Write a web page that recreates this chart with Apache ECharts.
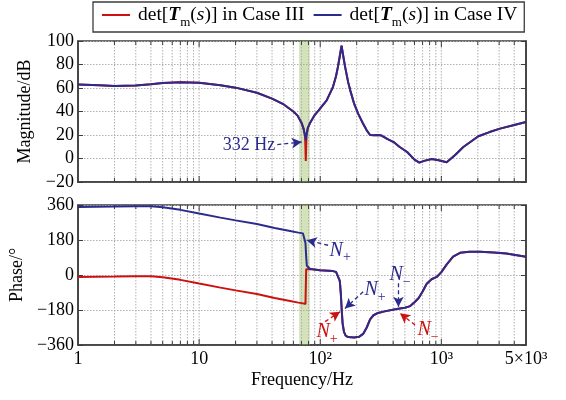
<!DOCTYPE html>
<html><head><meta charset="utf-8">
<script src="https://cdn.jsdelivr.net/npm/echarts@6/dist/echarts.min.js"></script>
<style>html,body{margin:0;padding:0;background:#fff}#c{width:566px;height:400px}</style>
</head><body><div id="c"></div>
<script>
// ---------- data ----------
const freqMag = [1,1.5,2,3,4,5,7,10,15,20,30,40,50,60,65,70,73,75,76,77,79,82.6,90,97,113,127,135,140,145,150,155,160.5,170,177,190,206,225,242,258,280,300,321,360,404,450,522,600,658,720,833,950,1107,1300,1518,2023,2500,3050,4000,5000];
const magCaseIV = [63,62.3,61.8,62.2,63.2,64.2,64.9,64.4,62.3,60.3,56,51,46,40,36.5,30.5,25,19,15.5,20,26,30.5,37,41,49.5,60.5,70,78,87,96,87,78,65,58,47,38,30,24,20,19.8,20,19.5,16.5,14,10,5.5,-1,-3.5,-2,-0.4,-1.5,-3.2,3,9.8,18.9,22.5,25.4,28.5,31];
const magCaseIII = [63,62.3,61.8,62.2,63.2,64.2,64.9,64.4,62.3,60.3,56,51,46,40,36.5,30.5,25,19,-2,20,26,30.5,37,41,49.5,60.5,70,78,87,96,87,78,65,58,47,38,30,24,20,19.8,20,19.5,16.5,14,10,5.5,-1,-3.5,-2,-0.4,-1.5,-3.2,3,9.8,18.9,22.5,25.4,28.5,31];

const freqPhase = [1,2,3,4,5,7,10,15,20,30,42,55,66,72,74,75.5,76.5,77.5,79,82.6,99.5,127,135,140,145,148,150.4,153,157,162,170,190,210,226,242,258,275,300,340,427,500,553,600,650,700,757,830,916,1000,1108,1250,1427,1700,2090,2700,3446,4200,5000];
const phaseCaseIV = [350,352,354,354,349,335,316,295,281,262,242,228,218,214,210,165,95,48,38,31,25,20,16,8,-30,-100,-180,-250,-292,-312,-319,-321,-317,-303,-270,-228,-207,-195,-187,-175,-168,-160,-140,-118,-85,-45,-22,-10,15,55,95,114,120,119,116,110,102,94];
const phaseCaseIII = [-10,-8,-6,-6,-11,-25,-44,-65,-79,-98,-118,-132,-142,-146,-148,-149,30,32,33,31,25,20,16,8,-30,-100,-180,-250,-292,-312,-319,-321,-317,-303,-270,-228,-207,-195,-187,-175,-168,-160,-140,-118,-85,-45,-22,-10,15,55,95,114,120,119,116,110,102,94];

const xMin = 1, xMax = 5000;
const xMajorTicks = [1,10,100,1000,5000];
const xMinorTicks = [2,3,4,5,6,7,8,9,20,30,40,50,60,70,80,90,200,300,400,500,600,700,800,900,2000,3000,4000];
const xTickLabels = {1:'1',10:'10',100:'10²',1000:'10³',5000:'5×10³'};
const magRange = [-20,100,20];
const phaseRange = [-360,360,180];
const band = [67,82];

// annotations (data coordinates)
const annotMag = {text:'332 Hz', at:[25.8,11.2], from:[44.2,11.8], to:[70.3,14.0]};
const annotPhaseBlue = [
  {sub:'+', at:[146,127], from:[116,153], to:[77.4,179]},
  {sub:'+', at:[284,-78], from:[226,-86], to:[160,-172]},
  {sub:'−', at:[456,-1], from:[442,-43], to:[442,-163]}
];
const annotPhaseRed = [
  {sub:'+', at:[114,-293], from:[109.5,-240], to:[145.7,-189]},
  {sub:'−', at:[776,-283], from:[607,-257], to:[456,-197]}
];

// ---------- style ----------
const serif = 'Liberation Serif';
const blue = '#2b2a8e', red = '#cc1111', axisColor = '#3c3c3c', gridColor = '#b0b0b0';
const zip = (a,b) => a.map((v,i)=>[v,b[i]]);
const fmtY = v => v < 0 ? '\u2212' + (-v) : String(v);

function gridRenderItem(params, api){
  const cs = params.coordSys;
  const v = api.value(0);
  const x = api.coord([v, api.value(1)])[0];
  const top = cs.y, bot = cs.y + cs.height;
  const major = xMajorTicks.indexOf(v) >= 0;
  const len = major ? 6 : 4;
  const ch = [];
  if (v > xMin && v < xMax) ch.push({type:'line', shape:{x1:x,y1:top,x2:x,y2:bot}, style:{stroke:gridColor,lineWidth:1,lineDash:[1.5,1.5]}});
  ch.push({type:'line', shape:{x1:x,y1:bot,x2:x,y2:bot-len}, style:{stroke:axisColor,lineWidth:1}});
  ch.push({type:'line', shape:{x1:x,y1:top,x2:x,y2:top+len}, style:{stroke:axisColor,lineWidth:1}});
  return {type:'group', children:ch};
}
const gridVals = xMinorTicks.concat([10,100,1000]).map(v=>[v,0]);

function xAxisDef(gi, labels){
  return {type:'log', logBase:10, gridIndex:gi, min:xMin, max:xMax, interval:1,
    axisLine:{show:true, onZero:false, lineStyle:{color:axisColor,width:1.5}},
    axisTick:{show:false}, splitLine:{show:false}, minorTick:{show:false},
    axisLabel:{show:labels, margin:5, color:'#000', fontFamily:serif, fontSize:18,
      formatter: v => xTickLabels[Math.round(v)] || ''},
    name: labels ? 'Frequency/Hz' : '', nameLocation:'middle', nameGap:26,
    nameTextStyle:{color:'#000', fontFamily:serif, fontSize:18}};
}
function yAxisDef(gi, r, name, right){
  return {type:'value', gridIndex:gi, min:r[0], max:r[1], interval:r[2], position: right?'right':'left',
    axisLine:{show:true, onZero:false, lineStyle:{color:axisColor,width:1.5}},
    axisTick:{show:true, inside:true, length:5, lineStyle:{color:axisColor}},
    splitLine:{show:!right, lineStyle:{color:gridColor, type:[1.5,1.5]}},
    axisLabel:{show:!right, margin:4, color:'#000', fontFamily:serif, fontSize:18, formatter:fmtY},
    name: right ? '' : name, nameLocation:'middle', nameGap:44,
    nameTextStyle:{color:'#000', fontFamily:serif, fontSize:18}};
}
function arrowLines(list, color){
  return {silent:true, symbol:['none','arrow'], symbolSize:[8,10], animation:false,
    lineStyle:{color:color, type:[4,3], width:1.3}, label:{show:false},
    data: list.map(a => [{coord:a.from},{coord:a.to}])};
}
function nLabels(list, color){
  return {silent:true, symbol:'circle', symbolSize:0, animation:false,
    data: list.map(a => ({coord:a.at, value:a.sub})),
    label:{show:true, position:'inside', color:color,
      formatter: p => '{n|N}{s|' + p.value + '}',
      rich:{ n:{fontFamily:serif, fontStyle:'italic', fontSize:20, color:color, lineHeight:28},
             s:{fontFamily:serif, fontSize:14, color:color, verticalAlign:'bottom', lineHeight:28} }}};
}
const bandArea = {silent:true, itemStyle:{color:'rgba(150,185,90,0.42)'}, data:[[{xAxis:band[0]},{xAxis:band[1]}]]};

const legendRich = {
  n:{fontFamily:serif, fontSize:19.5, color:'#000', lineHeight:28},
  b:{fontFamily:serif, fontSize:19.5, color:'#000', fontWeight:'bold', fontStyle:'italic', lineHeight:28},
  i:{fontFamily:serif, fontSize:19.5, color:'#000', fontStyle:'italic', lineHeight:28},
  sub:{fontFamily:serif, fontSize:13, color:'#000', verticalAlign:'bottom', lineHeight:28}
};

const option = {
  animation:false,
  backgroundColor:'#fff',
  textStyle:{fontFamily:serif},
  legend:{data:['III','IV'], left:93, top:2, selectedMode:false,
    padding:[3,7,3,9], borderColor:axisColor, borderWidth:1.3, itemGap:9,
    itemWidth:28, itemHeight:2, icon:'rect',
    formatter: n => '{n|det[}{b|T}{sub|m}{n|(}{i|s}{n|)] in Case ' + n + '}',
    textStyle:{rich:legendRich, padding:[0,0,0,3]}},
  grid:[
    {left:78, top:41, width:448, height:141, show:true, borderColor:axisColor, borderWidth:1.5, backgroundColor:'transparent'},
    {left:78, top:205, width:448, height:140, show:true, borderColor:axisColor, borderWidth:1.5, backgroundColor:'transparent'}
  ],
  xAxis:[xAxisDef(0,false), xAxisDef(1,true)],
  yAxis:[yAxisDef(0,magRange,'Magnitude/dB',false), yAxisDef(0,magRange,'',true),
         yAxisDef(1,phaseRange,'Phase/°',false), yAxisDef(1,phaseRange,'',true)],
  series:[
    {type:'custom', xAxisIndex:0, yAxisIndex:0, data:gridVals, renderItem:gridRenderItem, silent:true, z:1, clip:false},
    {type:'custom', xAxisIndex:1, yAxisIndex:2, data:gridVals, renderItem:gridRenderItem, silent:true, z:1, clip:false},
    {name:'III', type:'line', xAxisIndex:0, yAxisIndex:0, data:zip(freqMag,magCaseIII), showSymbol:false,
      color:red, lineStyle:{color:red,width:2}, z:3, markArea:bandArea},
    {name:'IV', type:'line', xAxisIndex:0, yAxisIndex:0, data:zip(freqMag,magCaseIV), showSymbol:false,
      color:blue, lineStyle:{color:blue,width:2}, z:4,
      markLine:arrowLines([annotMag], blue),
      markPoint:{silent:true, symbol:'circle', symbolSize:0, data:[{coord:annotMag.at}],
        label:{show:true, position:'inside', formatter:annotMag.text, color:blue, fontFamily:serif, fontSize:18}}},
    {name:'III', type:'line', xAxisIndex:1, yAxisIndex:2, data:zip(freqPhase,phaseCaseIII), showSymbol:false,
      color:red, lineStyle:{color:red,width:2}, z:3, markArea:bandArea,
      markLine:arrowLines(annotPhaseRed, red), markPoint:nLabels(annotPhaseRed, red)},
    {name:'IV', type:'line', xAxisIndex:1, yAxisIndex:2, data:zip(freqPhase,phaseCaseIV), showSymbol:false,
      color:blue, lineStyle:{color:blue,width:2}, z:4,
      markLine:arrowLines(annotPhaseBlue, blue), markPoint:nLabels(annotPhaseBlue, blue)}
  ]
};
const chart = echarts.init(document.getElementById('c'), null, {renderer:'canvas'});
chart.setOption(option);
</script></body></html>
